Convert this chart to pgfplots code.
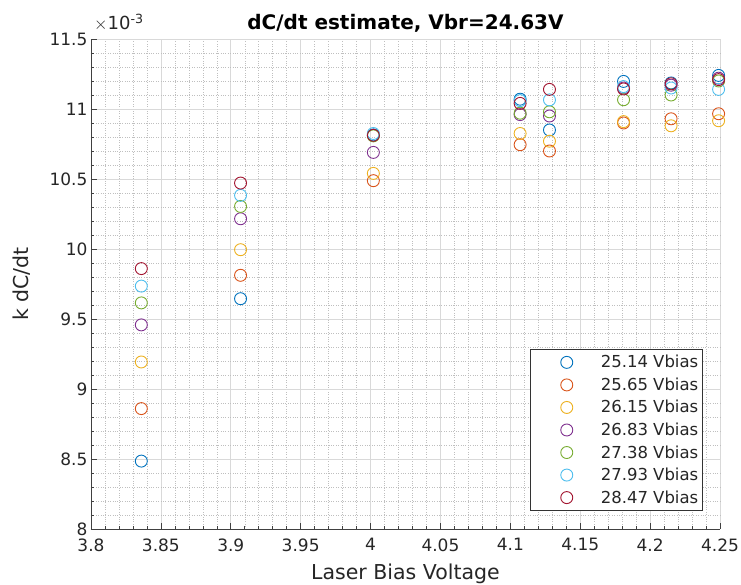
\documentclass[border=0pt]{standalone}
\usepackage{fontspec}
\setmainfont{DejaVu Sans}
\usepackage{pgfplots}
\pgfplotsset{compat=1.18}
\definecolor{mblue}{rgb}{0,0.447,0.741}
\definecolor{morange}{rgb}{0.85,0.325,0.098}
\definecolor{myellow}{rgb}{0.929,0.694,0.125}
\definecolor{mpurple}{rgb}{0.494,0.184,0.556}
\definecolor{mgreen}{rgb}{0.466,0.674,0.188}
\definecolor{mcyan}{rgb}{0.301,0.745,0.933}
\definecolor{mred}{rgb}{0.635,0.078,0.184}
\begin{document}
\begin{tikzpicture}
\useasboundingbox (-91pt,-56pt) rectangle (650pt,529pt);
\begin{axis}[
  scale only axis, width=629pt, height=490pt,
  xmin=3.8, xmax=4.25, ymin=8, ymax=11.5,
  xtick={3.8,3.85,3.9,3.95,4,4.05,4.1,4.15,4.2,4.25},
  xticklabels={3.8,3.85,3.9,3.95,4,4.05,4.1,4.15,4.2,4.25},
  ytick={8,8.5,9,9.5,10,10.5,11,11.5},
  yticklabels={8,8.5,9,9.5,10,10.5,11,11.5},
  minor x tick num=4, minor y tick num=4,
  grid=both,
  major grid style={black!15, line width=0.6pt},
  minor grid style={black!25, dotted, line width=0.5pt},
  axis x line*=bottom, axis y line*=left,
  axis line style={-, black!75, line width=0.7pt},
  tick style={black!75, line width=0.6pt},
  tick align=inside, major tick length=6pt, minor tick length=3pt,
  /pgf/number format/assume math mode=true,
  tick label style={font=\fontsize{17}{19}\selectfont, text=black!85},
  xticklabel style={yshift=-6pt},
  label style={font=\fontsize{20.5}{23}\selectfont, text=black!85},
  xlabel={Laser Bias Voltage},
  ylabel={k dC/dt},
  xlabel style={yshift=-6pt},
  ylabel style={yshift=12pt},
  title={\bfseries dC/dt estimate, Vbr=24.63V},
  title style={font=\fontsize{20}{23}\selectfont, yshift=-3pt},
  every axis plot/.append style={only marks, mark=o, mark size=6pt, line width=0.9pt},
  legend image code/.code={\path[draw=none] (-34pt,0pt) -- (32pt,0pt); \draw plot coordinates {(0pt,0pt)};},
  legend style={at={(0.9725,0.0367)}, anchor=south east, draw=black!80, line width=0.8pt,
    fill=white, font=\fontsize{16.5}{19}\selectfont, row sep=4.5pt, inner xsep=2pt, inner ysep=4pt,
    nodes={inner xsep=2pt, text=black!85}},
  legend cell align=left,
]
\addplot[mblue] coordinates {(3.836,8.485) (3.907,9.645) (4.002,10.815) (4.107,11.07) (4.128,10.85) (4.181,11.197) (4.215,11.186) (4.249,11.24)};
\addplot[morange] coordinates {(3.836,8.86) (3.907,9.812) (4.002,10.488) (4.107,10.745) (4.128,10.70) (4.181,10.90) (4.215,10.93) (4.249,10.966)};
\addplot[myellow] coordinates {(3.836,9.193) (3.907,9.995) (4.002,10.54) (4.107,10.825) (4.128,10.77) (4.181,10.91) (4.215,10.88) (4.249,10.916)};
\addplot[mpurple] coordinates {(3.836,9.458) (3.907,10.216) (4.002,10.69) (4.107,10.96) (4.128,10.95) (4.181,11.15) (4.215,11.17) (4.249,11.22)};
\addplot[mgreen] coordinates {(3.836,9.615) (3.907,10.304) (4.002,10.808) (4.107,10.97) (4.128,10.98) (4.181,11.066) (4.215,11.10) (4.249,11.20)};
\addplot[mcyan] coordinates {(3.836,9.735) (3.907,10.383) (4.002,10.825) (4.107,11.06) (4.128,11.065) (4.181,11.16) (4.215,11.15) (4.249,11.14)};
\addplot[mred] coordinates {(3.836,9.86) (3.907,10.471) (4.002,10.812) (4.107,11.04) (4.128,11.14) (4.181,11.143) (4.215,11.18) (4.249,11.21)};
\legend{25.14 Vbias, 25.65 Vbias, 26.15 Vbias, 26.83 Vbias, 27.38 Vbias, 27.93 Vbias, 28.47 Vbias}
\end{axis}
\node[anchor=south west, font=\fontsize{18}{20}\selectfont, text=black!85, inner sep=0pt] at ([xshift=3pt,yshift=8pt]current axis.north west) {$\times$10\textsuperscript{-3}};
\end{tikzpicture}
\end{document}
